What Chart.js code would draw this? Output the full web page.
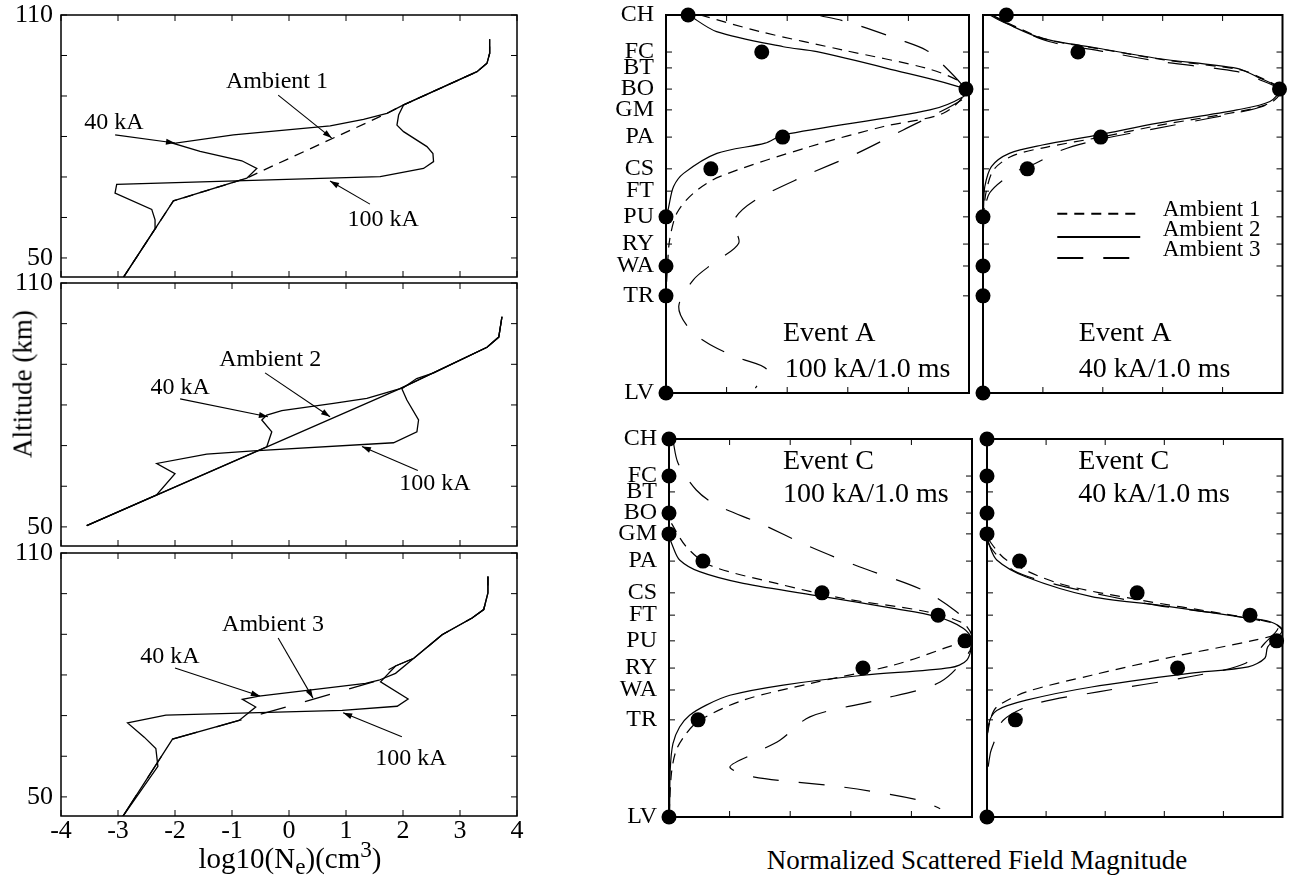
<!DOCTYPE html>
<html lang="en">
<head>
<meta charset="UTF-8">
<title>Ne profiles and scattered field</title>
<script src="https://cdn.jsdelivr.net/npm/chart.js"></script>
<style>
body { margin:0; background:#fff; font-family:"Liberation Serif","Times New Roman",serif; color:#000; }
.pane { position:absolute; }
.lbl { position:absolute; white-space:nowrap; font-size:27px; transform:translate(-50%,-50%); }
.xt { font-size:29px; }
sub, sup { font-size:80%; line-height:0; }
</style>
</head>
<body>

<div class="pane" style="left:0;top:0;width:530px;height:280px"><canvas id="ne1"></canvas></div>
<div class="pane" style="left:0;top:268px;width:530px;height:280px"><canvas id="ne2"></canvas></div>
<div class="pane" style="left:0;top:538px;width:530px;height:316px"><canvas id="ne3"></canvas></div>
<div class="pane" style="left:600px;top:0;width:380px;height:407px"><canvas id="fa100"></canvas></div>
<div class="pane" style="left:975px;top:0;width:315px;height:407px"><canvas id="fa40"></canvas></div>
<div class="pane" style="left:603px;top:424px;width:380px;height:407px"><canvas id="fc100"></canvas></div>
<div class="pane" style="left:979px;top:424px;width:311px;height:407px"><canvas id="fc40"></canvas></div>

<div class="lbl" style="left:23px;top:384px;transform:translate(-50%,-50%) rotate(-90deg)">Altitude (km)</div>
<div class="lbl xt" style="left:290px;top:858px">log10(N<sub>e</sub>)(cm<sup>3</sup>)</div>
<div class="lbl" style="left:977px;top:860px">Normalized Scattered Field Magnitude</div>

<script>
// ---- left column: electron density profiles, [log10 Ne, altitude km] ----
const altTicks = [50, 60, 70, 80, 90, 100, 110];
const neTicks = [-4, -3, -2, -1, 0, 1, 2, 3, 4];

const amb1 = [[-2.906,45.2],[-2.028,64.1],[-0.74,69.7],[-0.565,70.9],[1.718,85.7],[2.01,87.8],[3.298,96.0],[3.474,98.1],[3.52,100.5],[3.52,104]];
const amb1k40 = [[-2.906,45.2],[-2.028,64.1],[-0.74,69.7],[-0.565,72.1],[-0.828,74.0],[-1.56,76.3],[-2.028,78.3],[-0.974,80.4],[0.723,82.6],[1.308,84.2],[1.718,85.7],[2.01,87.8],[3.298,96.0],[3.474,98.1],[3.52,100.5],[3.52,104]];
const amb1k100 = [[-2.906,45.2],[-2.335,57.5],[-2.35,59.4],[-2.408,62.0],[-3.052,66.0],[-3.023,68.2],[1.6,70.1],[2.36,72.1],[2.536,73.8],[2.525,75.8],[2.42,77.5],[2.01,81.2],[1.894,82.8],[1.923,85.3],[2.01,87.8],[3.298,96.0],[3.474,98.1],[3.52,100.5],[3.52,104]];

const amb2 = [[-3.549,50.3],[1.95,84.0],[3.474,94.2],[3.68,96.7],[3.736,101.7]];
const amb2k40 = [[-3.549,50.3],[-0.39,69.7],[-0.302,73.4],[-0.477,76.3],[-0.39,77.5],[-0.126,78.6],[0.781,80.4],[1.366,81.6],[1.95,84.0],[3.474,94.2],[3.68,96.7],[3.736,101.7]];
const amb2k100 = [[-3.549,50.3],[-2.32,57.9],[-2.0,63.1],[-2.32,65.6],[-1.443,67.9],[-0.624,68.7],[1.834,70.7],[2.244,73.4],[2.273,76.3],[2.068,81.2],[1.98,84.0],[2.24,86.5],[2.54,87.9],[3.474,94.2],[3.68,96.7],[3.736,101.7]];

const amb3 = [[-2.92,45.1],[-2.044,64.2],[-0.876,68.8],[1.577,78.7],[1.63,80.4],[1.869,82.2],[2.19,84.1],[2.686,89.9],[3.212,94.0],[3.416,96.1],[3.49,100.2],[3.49,104.2]];
const amb3k40 = [[-2.92,45.1],[-2.044,64.2],[-0.876,68.8],[-0.584,72.1],[-0.818,74.0],[-0.526,74.8],[1.343,77.9],[1.577,78.7],[1.869,80.4],[2.19,84.1],[2.686,89.9],[3.212,94.0],[3.416,96.1],[3.49,100.2],[3.49,104.2]];
const amb3k100 = [[-2.92,45.1],[-2.30,57.5],[-2.336,61.9],[-2.54,64.7],[-2.832,68.2],[-2.16,70.1],[0.934,71.3],[1.898,72.3],[2.09,74.1],[1.606,78.3],[1.869,82.2],[2.19,84.1],[2.686,89.9],[3.212,94.0],[3.416,96.1],[3.49,100.2],[3.49,104.2]];

// ---- right column: normalized field vs receiver station ----
const stationNames = ['CH','FC','BT','BO','GM','PA','CS','FT','PU','RY','WA','TR','LV'];
const stationPos = [0, 9.8, 14.0, 19.6, 25.1, 32.3, 40.7, 46.6, 53.4, 60.6, 66.4, 74.3, 100];
const fieldTicks = [0, 0.2, 0.4, 0.6, 0.8, 1];

// measured values (dots), one per station, null = no measurement
const dotsA100 = [0.073, 0.316, null, 0.99, null, 0.385, 0.148, null, 0, null, 0, 0, 0];
const dotsA40  = [0.078, 0.317, null, 0.99, null, 0.393, 0.148, null, 0, null, 0, 0, 0];
const dotsC100 = [0, 0, null, 0, 0, 0.112, 0.505, 0.888, 0.977, 0.64, null, 0.096, 0];
const dotsC40  = [0, 0, null, 0, 0, 0.11, 0.508, 0.89, 0.98, 0.645, null, 0.096, 0];

// modelled curves, [field, station position]
const a100amb1 = [[0.113,0],[0.311,4.4],[0.586,9.3],[0.86,14.1],[0.97,17.6],[0.992,20.3],[0.915,26],[0.718,29.5],[0.476,34.8],[0.179,42.7],[0.091,47.1],[0.036,52.4],[0.012,59.5],[0.005,66.5],[0,75],[0,100]];
const a100amb2 = [[0.075,0],[0.167,4.4],[0.387,8.4],[0.498,9.7],[0.729,14.1],[0.99,19.6],[0.981,21.6],[0.871,25.1],[0.388,31.7],[0.327,33.9],[0.168,36.6],[0.058,41.9],[0.025,45.4],[0.009,50.7],[0.003,53.3],[0,60],[0,100]];
const a100amb3 = [[0.498,0],[0.597,1.8],[0.773,6.6],[0.859,9.3],[0.903,12.3],[0.981,18.9],[0.992,21.6],[0.783,30.4],[0.63,36.6],[0.454,42.7],[0.289,49.3],[0.223,54.6],[0.24,60.4],[0.157,65.6],[0.091,70.0],[0.042,77.1],[0.08,83.3],[0.157,87.7],[0.24,90.7],[0.333,93.8],[0.295,98.7]];

const a40amb1 = [[0.03,0],[0.09,2.4],[0.21,6.4],[0.4,9.1],[0.6,11.8],[0.86,14.5],[0.93,16.7],[0.995,19.8],[0.965,23.0],[0.87,25.3],[0.6,29.0],[0.4,32.2],[0.21,35.0],[0.1,37.2],[0.035,41],[0.01,47],[0.003,52],[0,58],[0,100]];
const a40amb2 = [[0.022,0],[0.077,2.2],[0.198,6.2],[0.385,8.8],[0.584,11.5],[0.848,14.1],[0.914,16.3],[0.99,19.6],[0.958,22.9],[0.848,25.1],[0.584,28.6],[0.385,31.7],[0.198,34.4],[0.088,36.6],[0.028,40.1],[0.006,45.4],[0.002,50.7],[0,56],[0,100]];
const a40amb3 = [[0.03,0],[0.09,2.6],[0.22,7.0],[0.4,9.6],[0.59,12.3],[0.85,15.0],[0.92,17.0],[0.99,19.8],[0.96,23.2],[0.892,25.1],[0.639,29.1],[0.385,33.0],[0.264,35.7],[0.176,39.2],[0.099,41.9],[0.022,47.1],[0.005,53],[0,60],[0,100]];

const c100amb1 = [[0,0],[0,21],[0.008,22.3],[0.057,28.5],[0.134,33.4],[0.355,38.2],[0.576,42.2],[0.851,45.7],[0.972,48.8],[1.0,52.3],[0.907,55.4],[0.742,59.8],[0.465,64.7],[0.245,69.1],[0.101,74.4],[0.057,77.9],[0.024,82.3],[0.008,88.5],[0,100]];
const c100amb2 = [[0,0],[0,25.1],[0.013,28.5],[0.035,32],[0.101,35.1],[0.245,38.2],[0.509,41.7],[0.741,44.8],[0.884,47],[0.972,50.1],[1.0,53.2],[0.983,58.5],[0.928,60.5],[0.641,62.5],[0.377,65.1],[0.201,67.8],[0.123,70.4],[0.068,73.1],[0.035,76.2],[0.013,80.6],[0.004,87.6],[0.002,100]];
const c100amb3 = [[0.013,0.3],[0.03,6.4],[0.09,13.5],[0.157,17.5],[0.3,22.3],[0.465,28.5],[0.628,33.8],[0.838,40],[0.949,45.7],[1.0,50.1],[0.994,55.9],[0.895,64.3],[0.686,69.1],[0.465,73.5],[0.366,79.7],[0.267,83.7],[0.201,86.8],[0.278,89.4],[0.576,92.1],[0.829,95.6],[0.895,97.8]];

const c40amb1 = [[0,0],[0,25.1],[0.006,26.7],[0.066,32],[0.243,38.2],[0.519,42.6],[0.796,46.2],[0.972,48.8],[1.0,51],[0.906,53.2],[0.63,57.6],[0.354,62.5],[0.133,66.9],[0.033,70.9],[0.011,74.4],[0,80],[0,100]];
const c40amb2 = [[0,0],[0,25.1],[0.006,27.6],[0.033,32],[0.133,36.5],[0.354,41.7],[0.575,43.9],[0.851,47],[0.961,48.4],[1.0,50.6],[0.95,55],[0.94,58],[0.884,60.3],[0.685,62],[0.354,65.6],[0.133,69.1],[0.033,71.8],[0.006,75.3],[0,82],[0,100]];
const c40amb3 = [[0,0],[0,25.1],[0.011,28.5],[0.088,34.7],[0.265,39.1],[0.575,44],[0.818,46.6],[0.983,49.7],[0.939,54.1],[0.873,59.4],[0.685,62.9],[0.376,66.9],[0.166,70],[0.055,74.4],[0.022,80.6],[0.011,83.2],[0,90],[0,100]];

const FONT = '"Liberation Serif", "Times New Roman", serif';
const shortDash = [10, 7];
const longDash = [26, 20];
const ambDash = [shortDash, [], longDash];

const pts = a => a.map(p => ({x: p[0], y: p[1]}));
// keep the plot box where the layout padding puts it
const noPad = s => { s.paddingTop = 0; s.paddingBottom = 0; s.paddingLeft = 0; s.paddingRight = 0; };

// box + inward tick marks on all four sides
const framePlugin = {
  id: 'frame',
  afterDraw(chart, args, o) {
    const {ctx, chartArea: a, scales: {x, y}} = chart;
    ctx.save();
    ctx.strokeStyle = '#000';
    ctx.lineWidth = o.lw;
    ctx.strokeRect(a.left, a.top, a.right - a.left, a.bottom - a.top);
    ctx.lineWidth = 1;
    ctx.beginPath();
    o.xTicks.forEach(v => {
      const px = x.getPixelForValue(v);
      ctx.moveTo(px, a.top); ctx.lineTo(px, a.top + o.len);
      ctx.moveTo(px, a.bottom); ctx.lineTo(px, a.bottom - o.len);
    });
    o.yTicks.forEach(v => {
      const py = y.getPixelForValue(v);
      ctx.moveTo(a.left, py); ctx.lineTo(a.left + o.len, py);
      ctx.moveTo(a.right, py); ctx.lineTo(a.right - o.len, py);
    });
    ctx.stroke();
    ctx.restore();
  }
};

// text labels, arrows and legend keys placed in data units
const notesPlugin = {
  id: 'notes',
  afterDraw(chart, args, o) {
    const {ctx, scales: {x, y}} = chart;
    ctx.save();
    ctx.fillStyle = '#000';
    ctx.strokeStyle = '#000';
    (o.texts || []).forEach(t => {
      ctx.font = t.size + 'px ' + FONT;
      ctx.textAlign = t.align || 'center';
      ctx.textBaseline = 'middle';
      ctx.fillText(t.t, x.getPixelForValue(t.x), y.getPixelForValue(t.y));
    });
    (o.arrows || []).forEach(r => {
      const x1 = x.getPixelForValue(r[0]), y1 = y.getPixelForValue(r[1]);
      const x2 = x.getPixelForValue(r[2]), y2 = y.getPixelForValue(r[3]);
      const ang = Math.atan2(y2 - y1, x2 - x1);
      ctx.lineWidth = 1.1;
      ctx.beginPath(); ctx.moveTo(x1, y1); ctx.lineTo(x2, y2); ctx.stroke();
      ctx.beginPath();
      ctx.moveTo(x2, y2);
      ctx.lineTo(x2 - 9 * Math.cos(ang) + 3 * Math.sin(ang), y2 - 9 * Math.sin(ang) - 3 * Math.cos(ang));
      ctx.lineTo(x2 - 9 * Math.cos(ang) - 3 * Math.sin(ang), y2 - 9 * Math.sin(ang) + 3 * Math.cos(ang));
      ctx.closePath(); ctx.fill();
    });
    (o.keys || []).forEach(k => {
      ctx.lineWidth = 2;
      ctx.setLineDash(k.dash);
      ctx.beginPath();
      ctx.moveTo(x.getPixelForValue(k.x0), y.getPixelForValue(k.y));
      ctx.lineTo(x.getPixelForValue(k.x1), y.getPixelForValue(k.y));
      ctx.stroke();
      ctx.setLineDash([]);
      ctx.font = '23px ' + FONT;
      ctx.textAlign = 'left';
      ctx.textBaseline = 'middle';
      ctx.fillText(k.label, x.getPixelForValue(k.tx), y.getPixelForValue(k.ty));
    });
    ctx.restore();
  }
};

function profileChart(id, ambient, k40, k100, dash, notes, withLabels, padBottom) {
  const mk = (d, dsh) => ({data: pts(d), showLine: true, borderColor: '#000', borderWidth: 1.3,
    borderDash: dsh, pointRadius: 0, tension: 0, fill: false});
  return new Chart(document.getElementById(id), {
    type: 'scatter',
    data: {datasets: [mk(k40, []), mk(k100, []), mk(ambient, dash)]},
    options: {
      animation: false, responsive: true, maintainAspectRatio: false, events: [],
      layout: {padding: {top: 15, right: 13, bottom: padBottom, left: 0}},
      scales: {
        x: {type: 'linear', min: -4, max: 4,
          grid: {display: false, drawTicks: false}, border: {display: false},
          afterBuildTicks: s => { s.ticks = neTicks.map(v => ({value: v})); },
          ticks: {display: withLabels, autoSkip: false, maxRotation: 0, padding: 2,
            font: {family: FONT, size: 26, lineHeight: 1}, color: '#000', callback: v => String(v)},
          afterFit: s => { s.height = withLabels ? 38 : 0; noPad(s); }},
        y: {type: 'linear', min: 45.3, max: 110,
          grid: {display: false, drawTicks: false}, border: {display: false},
          afterBuildTicks: s => { s.ticks = altTicks.map(v => ({value: v})); },
          ticks: {autoSkip: false, padding: 8, font: {family: FONT, size: 26, lineHeight: 1}, color: '#000',
            callback: v => (v === 50 || v === 110) ? String(v) : ''},
          afterFit: s => { s.width = 61; noPad(s); }}
      },
      plugins: {legend: {display: false}, tooltip: {enabled: false},
        frame: {xTicks: neTicks, yTicks: altTicks, len: 6, lw: 1.5},
        notes: notes}
    },
    plugins: [framePlugin, notesPlugin]
  });
}

function fieldChart(id, curves, dots, withNames, padRight, notes) {
  const ds = [{
    data: stationPos.map((p, i) => dots[i] === null ? null : {x: dots[i], y: p}).filter(Boolean),
    showLine: false, pointRadius: 7.5, pointBackgroundColor: '#000', pointBorderWidth: 0, clip: false
  }];
  curves.forEach((c, k) => ds.push({data: pts(c), showLine: true, borderColor: '#000', borderWidth: 1.2,
    borderDash: ambDash[k], pointRadius: 0, tension: 0.3, clip: false}));
  return new Chart(document.getElementById(id), {
    type: 'scatter',
    data: {datasets: ds},
    options: {
      animation: false, responsive: true, maintainAspectRatio: false, events: [],
      layout: {padding: {top: 15, right: padRight, bottom: 14, left: 0}},
      scales: {
        x: {type: 'linear', min: 0, max: 1,
          grid: {display: false, drawTicks: false}, border: {display: false},
          ticks: {display: false},
          afterFit: s => { s.height = 0; noPad(s); }},
        y: {type: 'linear', min: 0, max: 100, reverse: true,
          grid: {display: false, drawTicks: false}, border: {display: false},
          afterBuildTicks: s => { s.ticks = stationPos.map(v => ({value: v})); },
          ticks: {display: withNames, autoSkip: false, padding: 12,
            font: {family: FONT, size: 24, lineHeight: 1}, color: '#000',
            callback: (v, i) => stationNames[i]},
          afterFit: s => { s.width = withNames ? 66 : 8; noPad(s); }}
      },
      plugins: {legend: {display: false}, tooltip: {enabled: false},
        frame: {xTicks: fieldTicks, yTicks: stationPos, len: 6, lw: 2},
        notes: notes}
    },
    plugins: [framePlugin, notesPlugin]
  });
}

profileChart('ne1', amb1, amb1k40, amb1k100, shortDash, {
  texts: [{t: 'Ambient 1', x: -0.21, y: 93.5, size: 24}, {t: '40 kA', x: -3.07, y: 83.3, size: 24},
          {t: '100 kA', x: 1.65, y: 59.4, size: 24}],
  arrows: [[-0.19, 90.2, 0.75, 79.6], [-3.05, 80.4, -2.0, 78.4], [1.42, 63.3, 0.72, 69.0]]
}, false, 3);

profileChart('ne2', amb2, amb2k40, amb2k100, [], {
  texts: [{t: 'Ambient 2', x: -0.33, y: 91.1, size: 24}, {t: '40 kA', x: -1.91, y: 84.2, size: 24},
          {t: '100 kA', x: 2.56, y: 60.7, size: 24}],
  arrows: [[-0.42, 87.9, 0.72, 77.1], [-1.91, 81.5, -0.37, 77.1], [2.26, 63.9, 1.28, 69.8]]
}, false, 2);

profileChart('ne3', amb3, amb3k40, amb3k100, longDash, {
  texts: [{t: 'Ambient 3', x: -0.28, y: 92.3, size: 24}, {t: '40 kA', x: -2.09, y: 84.4, size: 24},
          {t: '100 kA', x: 2.14, y: 59.4, size: 24}],
  arrows: [[-0.19, 89.1, 0.42, 74.3], [-2.0, 81.7, -0.51, 74.8], [1.98, 64.8, 0.95, 70.7]]
}, true, 0);

fieldChart('fa100', [a100amb1, a100amb2, a100amb3], dotsA100, true, 11, {
  texts: [{t: 'Event A', x: 0.386, y: 84.4, size: 28, align: 'left'},
          {t: '100 kA/1.0 ms', x: 0.392, y: 93.7, size: 28, align: 'left'}]
});

fieldChart('fa40', [a40amb1, a40amb2, a40amb3], dotsA40, false, 4, {
  texts: [{t: 'Event A', x: 0.32, y: 84.4, size: 28, align: 'left'},
          {t: '40 kA/1.0 ms', x: 0.32, y: 93.7, size: 28, align: 'left'}],
  keys: [{label: 'Ambient 1', dash: shortDash, x0: 0.248, x1: 0.525, y: 52.6, tx: 0.6, ty: 51.6},
         {label: 'Ambient 2', dash: [], x0: 0.248, x1: 0.525, y: 58.7, tx: 0.6, ty: 56.9},
         {label: 'Ambient 3', dash: longDash, x0: 0.248, x1: 0.525, y: 64.3, tx: 0.6, ty: 62.2}]
});

fieldChart('fc100', [c100amb1, c100amb2, c100amb3], dotsC100, true, 11, {
  texts: [{t: 'Event C', x: 0.376, y: 6.1, size: 28, align: 'left'},
          {t: '100 kA/1.0 ms', x: 0.376, y: 14.6, size: 28, align: 'left'}]
});

fieldChart('fc40', [c40amb1, c40amb2, c40amb3], dotsC40, false, 2, {
  texts: [{t: 'Event C', x: 0.309, y: 6.1, size: 28, align: 'left'},
          {t: '40 kA/1.0 ms', x: 0.309, y: 14.6, size: 28, align: 'left'}]
});
</script>
</body>
</html>
